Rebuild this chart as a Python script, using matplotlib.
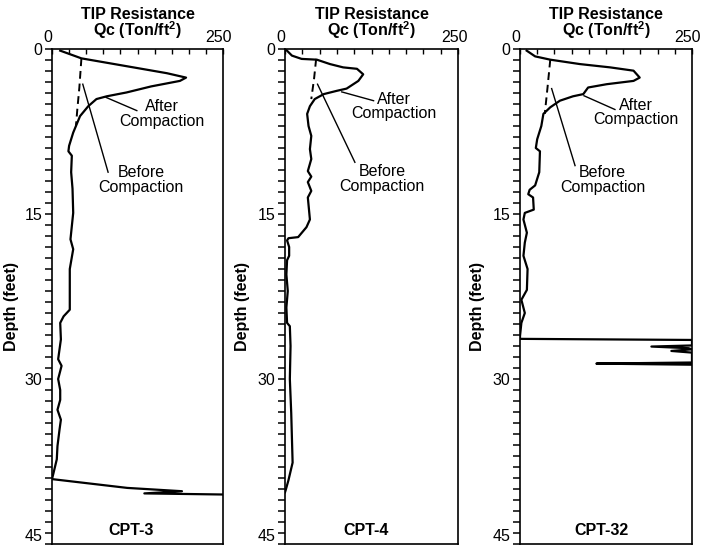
import matplotlib
matplotlib.use("Agg")
import matplotlib.pyplot as plt
from matplotlib.ticker import MultipleLocator, FixedLocator
from matplotlib.transforms import ScaledTranslation

plt.rcParams["font.family"] = ["Liberation Sans", "DejaVu Sans"]
plt.rcParams["mathtext.fontset"] = "custom"
plt.rcParams["mathtext.rm"] = "Liberation Sans"
plt.rcParams["mathtext.bf"] = "Liberation Sans:bold"

# ---------------- CPT soundings: tip resistance (Ton/ft^2) vs depth (ft) ----------------
cpt3_after_qc = [12, 43, 119, 168, 196, 187, 145, 109, 80, 65,
                 53, 41, 31, 25, 24, 29, 28, 30, 31, 27,
                 31, 26, 26, 26, 17, 12, 13, 9, 14, 9,
                 12, 12, 8, 13, 11, 8, 7, 2, 0, 110,
                 190, 135, 250]
cpt3_after_depth = [0.15, 0.85, 1.67, 2.2, 2.6, 2.9, 3.4, 3.95, 4.3, 4.55,
                    5.2, 6.1, 7.6, 8.8, 9.3, 9.7, 11.2, 12.7, 14.9, 17.3,
                    18.2, 20.0, 21.9, 23.7, 24.3, 24.9, 26.4, 28.2, 28.8, 30.0,
                    31.0, 31.9, 32.8, 33.7, 34.6, 36.1, 37.3, 38.6, 39.1, 39.9,
                    40.2, 40.4, 40.5]
cpt3_before_qc = [43, 40, 37, 35]
cpt3_before_depth = [0.85, 3.5, 5.5, 7.0]

cpt4_after_qc = [1.4, 10, 24, 46, 65, 84, 104, 113, 106, 89,
                 75, 56, 43, 36, 32, 34, 38, 36, 38, 33,
                 38, 33, 38, 33, 36, 31, 19, 5, 3, 6,
                 6, 3, 2, 4, 2, 3, 7, 8, 7, 9,
                 11, 5, 1, 0]
cpt4_after_depth = [0.06, 0.6, 0.9, 0.97, 1.37, 1.67, 1.8, 2.3, 2.9, 3.6,
                    3.8, 4.1, 4.55, 5.2, 5.9, 7.0, 7.9, 9.1, 10.0, 11.1,
                    11.6, 12.1, 12.9, 13.5, 15.5, 16.2, 17.1, 17.2, 17.4, 18.0,
                    18.8, 19.2, 20.5, 22.0, 23.5, 24.9, 25.2, 27.0, 30.0, 33.1,
                    37.6, 39.2, 40.1, 40.3]
cpt4_before_qc = [45, 42, 38]
cpt4_before_depth = [0.9, 2.7, 4.55]

cpt32_after_qc = [9.7, 22, 44, 87, 131, 165, 174, 165, 126, 99,
                  92, 77, 58, 44, 34, 31, 25, 23, 29, 28,
                  22, 14, 12, 19, 20, 7, 5, 10, 7, 5,
                  11, 10, 2, 7, 2, 0, 0, 250, 250, 191,
                  245, 250, 220, 250, 250, 111, 250]
cpt32_after_depth = [0.15, 0.67, 0.97, 1.37, 1.67, 1.97, 2.6, 2.9, 3.2, 3.5,
                     4.1, 4.3, 4.7, 5.3, 5.9, 7.0, 8.2, 9.0, 9.3, 11.2,
                     12.4, 12.8, 13.2, 13.5, 14.6, 14.9, 15.5, 16.7, 17.6, 18.8,
                     20.0, 21.9, 22.8, 24.0, 24.9, 26.1, 26.35, 26.45, 26.95, 27.05,
                     27.2, 27.3, 27.45, 27.6, 28.5, 28.6, 28.7]
cpt32_before_qc = [44, 40, 36]
cpt32_before_depth = [0.97, 3.5, 5.9]

sounding_names = ["CPT-3", "CPT-4", "CPT-32"]
# ----------------------------------------------------------------------------------------

soundings = [
    (cpt3_after_qc, cpt3_after_depth, cpt3_before_qc, cpt3_before_depth),
    (cpt4_after_qc, cpt4_after_depth, cpt4_before_qc, cpt4_before_depth),
    (cpt32_after_qc, cpt32_after_depth, cpt32_before_qc, cpt32_before_depth),
]

# panel boxes in figure fractions and callout placement (data coords)
panel_left = [52 / 702, 285 / 702, 520 / 702]
panel_width = [171 / 702, 173 / 702, 172 / 702]
after_callout = [((79, 4.4), (124, 5.6), (161, 5.9)),
                 ((82, 3.9), (128, 4.7), (158, 5.2)),
                 ((93, 4.25), (138, 5.5), (168, 5.75))]
before_callout = [((45, 3.2), (82, 11.2), (130, 11.9)),
                  ((47, 3.2), (101, 10.3), (140, 11.8)),
                  ((46, 3.6), (80, 10.6), (120, 11.9))]
name_x = [115, 117, 119]
ylabel_x = [-0.193, -0.202, -0.203]

fig = plt.figure(figsize=(7.02, 5.5), dpi=100)
nudge_left = ScaledTranslation(-0.04, 0, fig.dpi_scale_trans)

for i, (aq, ad, bq, bd) in enumerate(soundings):
    ax = fig.add_axes([panel_left[i], 0.0109, panel_width[i], 0.9])

    ax.plot(aq, ad, color="black", lw=1.6, solid_joinstyle="round")
    ax.plot(bq, bd, color="black", lw=1.4, linestyle=(0, (4, 2.5)))

    ax.set_xlim(0, 250)
    ax.set_ylim(45, 0)

    # qc axis on top: labelled ends, inward ticks every 25
    ax.xaxis.tick_top()
    ax.xaxis.set_major_locator(FixedLocator([0, 250]))
    ax.xaxis.set_minor_locator(MultipleLocator(25))
    ax.tick_params(axis="x", which="both", direction="in", length=3.5, width=1,
                   top=True, bottom=False, labelsize=11.5, pad=3)
    for lab in ax.get_xticklabels():
        lab.set_transform(lab.get_transform() + nudge_left)

    # depth axis: labels every 15 ft, outward ticks every foot
    ax.yaxis.set_major_locator(FixedLocator([0, 15, 30, 45]))
    ax.yaxis.set_minor_locator(MultipleLocator(1))
    ax.tick_params(axis="y", which="both", direction="out", length=5, width=1.1,
                   left=True, right=False, labelsize=11.5, pad=2)
    # bottom "45" sits on its baseline so it stays inside the figure
    for lab in ax.get_yticklabels():
        if lab.get_text() == "45":
            lab.set_verticalalignment("bottom")

    for s in ax.spines.values():
        s.set_linewidth(1.2)

    ax.set_ylabel("Depth (feet)", fontsize=11.5, fontweight="bold")
    ax.yaxis.set_label_coords(ylabel_x[i], 0.48)

    ax.text(0.5, 1 + 8 / 495, "TIP Resistance\nQc (Ton/ft$^{\\mathbf{2}}$)",
            transform=ax.transAxes, ha="center", va="bottom",
            fontsize=11.5, fontweight="bold", linespacing=0.85)

    (p0, p1, pt) = after_callout[i]
    ax.plot([p0[0], p1[0]], [p0[1], p1[1]], color="black", lw=1.0)
    ax.text(pt[0], pt[1], "After\nCompaction", ha="center", va="center",
            fontsize=11.5, linespacing=0.95)

    (p0, p1, pt) = before_callout[i]
    ax.plot([p0[0], p1[0]], [p0[1], p1[1]], color="black", lw=1.0)
    ax.text(pt[0], pt[1], "Before\nCompaction", ha="center", va="center",
            fontsize=11.5, linespacing=0.95)

    ax.text(name_x[i], 43.8, sounding_names[i], ha="center", va="center",
            fontsize=11.5, fontweight="bold")

fig.canvas.draw()
for a in fig.axes:
    for lab in a.get_yticklabels():
        if lab.get_text() == "45":
            lab.set_verticalalignment("bottom")

fig.savefig("out.png", dpi=100)
